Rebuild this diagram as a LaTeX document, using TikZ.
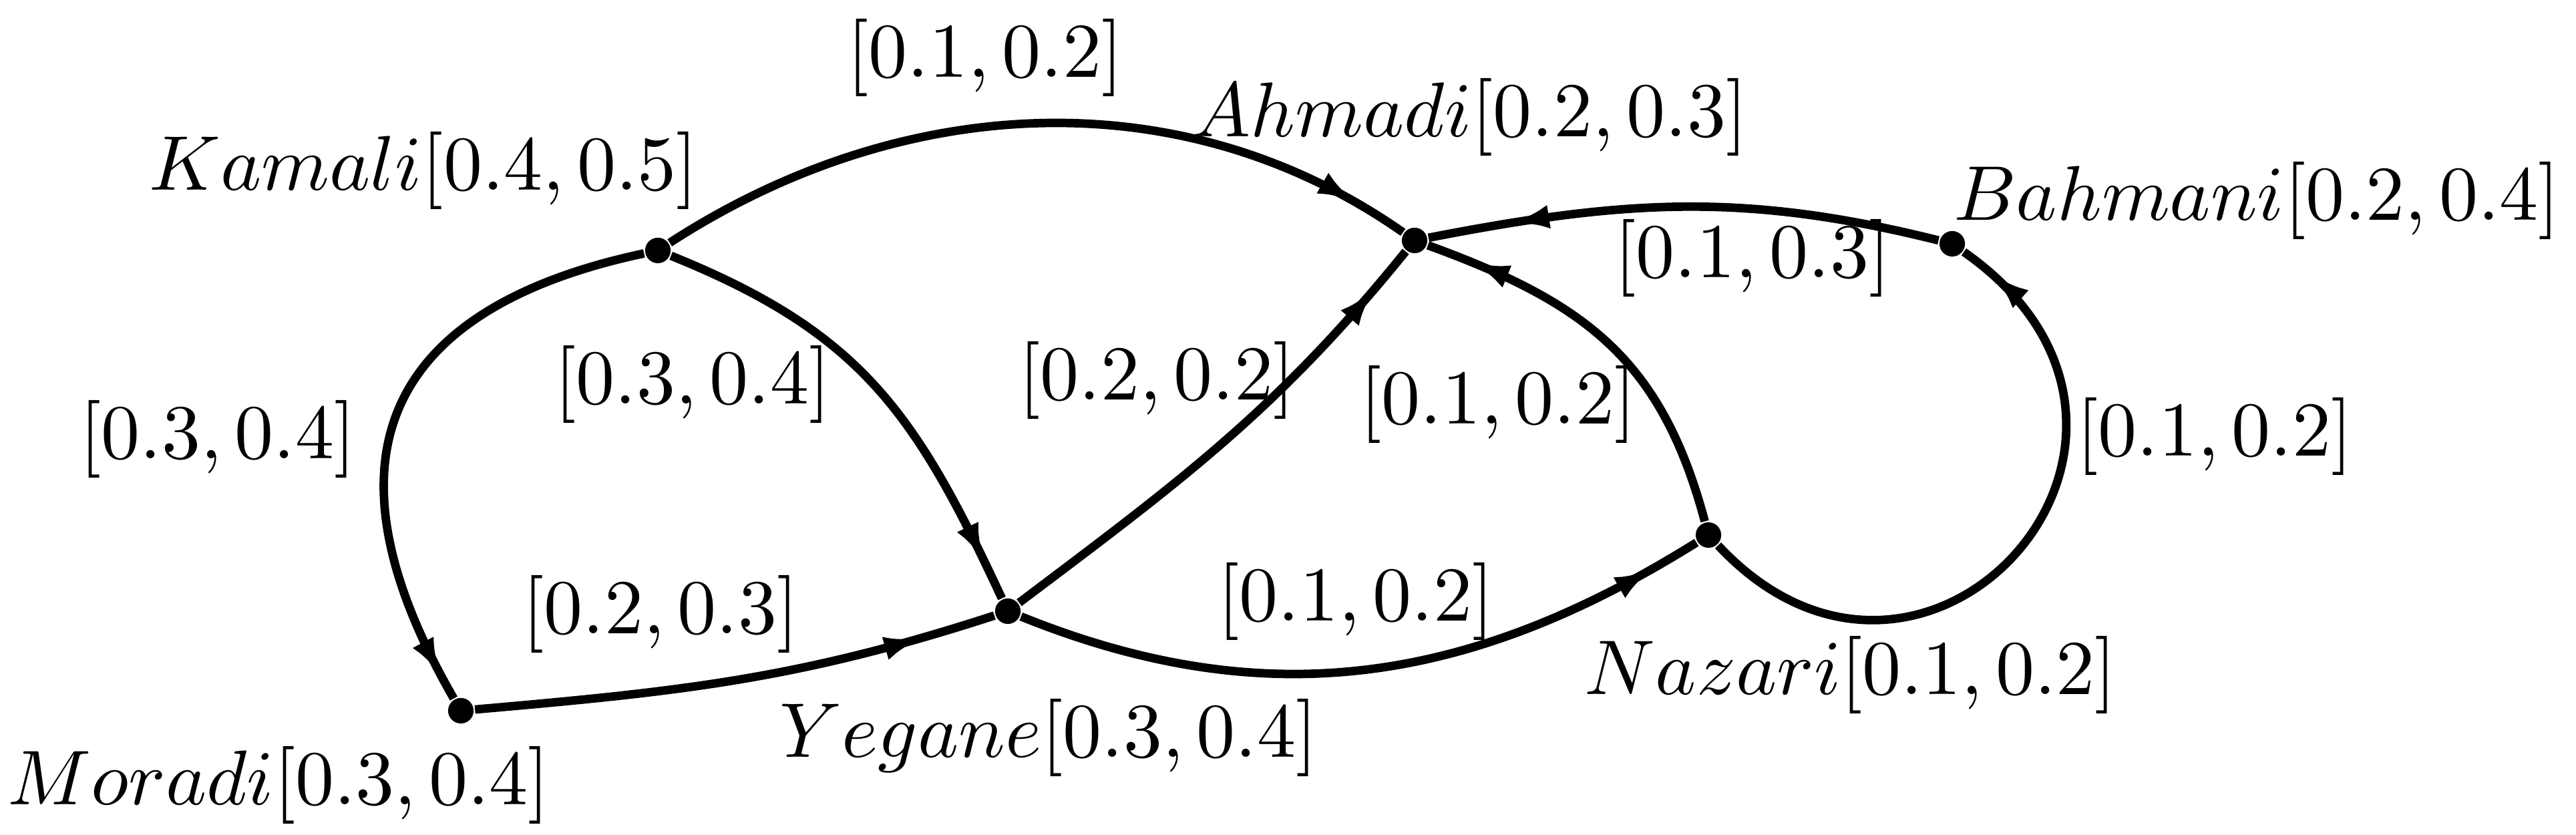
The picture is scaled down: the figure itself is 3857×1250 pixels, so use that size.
\documentclass[tikz,border=0pt]{standalone}
\usetikzlibrary{arrows.meta,decorations.markings}
\begin{document}
\begin{tikzpicture}[x=0.0943pt,y=0.0943pt,
  vertex/.style={circle,fill=black,inner sep=0pt,minimum size=3.6pt},
  lbl/.style={inner sep=0pt,font=\fontsize{10.6pt}{12.7pt}\selectfont},
  edge/.style={line width=1.2pt},
  arr/.style={decoration={markings,mark=at position #1 with {\arrow{Latex[length=5.6pt,width=3.3pt]}}},postaction={decorate}}]
\useasboundingbox (0,0) rectangle (3857,1250);
% vertices
\node[vertex] (K) at (985,875) {};
\node[vertex] (A) at (2118,890) {};
\node[vertex] (B) at (2923,885) {};
\node[vertex] (M) at (690,186) {};
\node[vertex] (Y) at (1509,335) {};
\node[vertex] (N) at (2558,449) {};
% vertex labels
\node[lbl] (lK) at (634,994) {$Kamali[0.4,0.5]$};
\node[lbl] (lA) at (2201,1074) {$Ahmadi[0.2,0.3]$};
\node[lbl] (lB) at (3379,949) {$Bahmani[0.2,0.4]$};
\node[lbl] (lM) at (417,74) {$Moradi[0.3,0.4]$};
\node[lbl] (lY) at (1570,146) {$Yegane[0.3,0.4]$};
\node[lbl] (lN) at (2771,240) {$Nazari[0.1,0.2]$};
% edge labels
\node[lbl] (e1) at (1475,1163) {$[0.1,0.2]$};
\node[lbl] (e2) at (2624,863) {$[0.1,0.3]$};
\node[lbl] (e3) at (326,592) {$[0.3,0.4]$};
\node[lbl] (e4) at (1037,674) {$[0.3,0.4]$};
\node[lbl] (e5) at (1732,680) {$[0.2,0.2]$};
\node[lbl] (e6) at (2243,644) {$[0.1,0.2]$};
\node[lbl] (e7) at (3316,596) {$[0.1,0.2]$};
\node[lbl] (e8) at (989,330) {$[0.2,0.3]$};
\node[lbl] (e9) at (2030,349) {$[0.1,0.2]$};
% edges
\draw[edge,arr=0.93] (K) to[out=33,in=145,looseness=0.95] (A);
\draw[edge,arr=0.84] (B) to[out=166,in=11] (A);
\draw[edge,arr=0.89] (N) to[out=105,in=-20,looseness=1.1] (A);
\draw[edge,arr=0.91] (Y) to[out=37,in=-129] (A);
\draw[edge,arr=0.92] (K) to[out=-22,in=115,looseness=1.1] (Y);
\draw[edge,arr=0.96] (K) .. controls +(192:350) and +(120:500) .. (M);
\draw[edge,arr=0.86] (M) to[out=5,in=198] (Y);
\draw[edge,arr=0.93] (Y) to[out=-22,in=212] (N);
\draw[edge,arr=0.95] (N) .. controls +(-47:480) and +(-35:500) .. (B);
\end{tikzpicture}
\end{document}
